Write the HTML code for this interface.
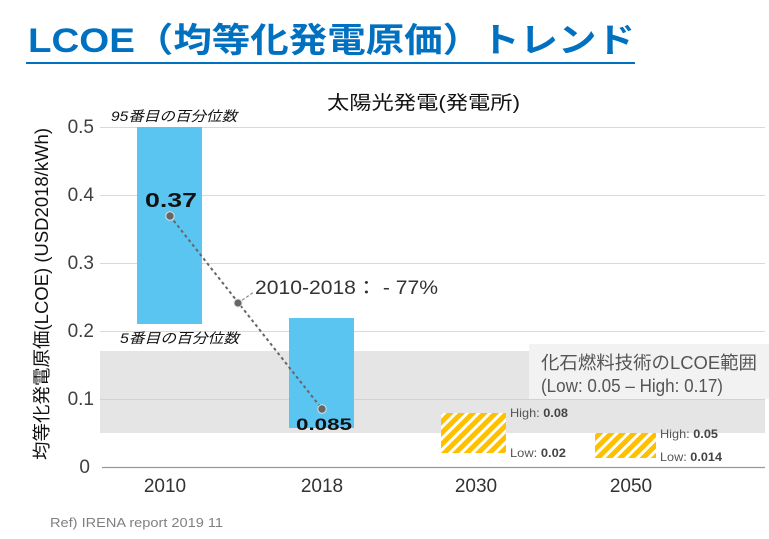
<!DOCTYPE html>
<html><head><meta charset="utf-8"><style>
html,body{margin:0;padding:0;background:#fff;}
svg{display:block;}
text{font-family:"Liberation Sans","Noto Sans CJK JP",sans-serif;}
.jp{font-family:"Liberation Sans","Noto Sans CJK JP",sans-serif;}
</style></head><body>
<svg width="769" height="539" viewBox="0 0 769 539" xmlns="http://www.w3.org/2000/svg">
<defs>
<pattern id="hatch" patternUnits="userSpaceOnUse" width="8" height="8" patternTransform="rotate(45)">
<rect x="0" y="0" width="8" height="8" fill="#ffffff"/>
<rect x="0" y="0" width="5" height="8" fill="#FFC000"/>
</pattern>
</defs>
<rect width="769" height="539" fill="#fff"/>

<!-- Title -->
<text x="28" y="52" font-size="34" font-weight="bold" fill="#0070C0" textLength="607" lengthAdjust="spacingAndGlyphs">LCOE（均等化発電原価）トレンド</text>
<rect x="26" y="62" width="609" height="2" fill="#0070C0"/>

<!-- subtitle -->
<text x="327" y="109" font-size="19" fill="#111" textLength="193" lengthAdjust="spacingAndGlyphs">太陽光発電(発電所)</text>

<!-- gray band fossil range -->
<rect x="100" y="351" width="665" height="82" fill="#e5e5e5"/>

<!-- gridlines -->
<g stroke="#d9d9d9" stroke-width="1">
<line x1="100" y1="127.5" x2="765" y2="127.5"/>
<line x1="100" y1="195.5" x2="765" y2="195.5"/>
<line x1="100" y1="263.5" x2="765" y2="263.5"/>
<line x1="100" y1="331.5" x2="765" y2="331.5"/>
<line x1="100" y1="399.5" x2="765" y2="399.5" stroke="#d2d2d2"/>
</g>
<line x1="102" y1="467.5" x2="765" y2="467.5" stroke="#999" stroke-width="1.2"/>

<!-- legend box -->
<rect x="529" y="344" width="240" height="55" fill="#f2f2f2"/>
<text x="541" y="369" font-size="18" fill="#555" textLength="216" lengthAdjust="spacingAndGlyphs">化石燃料技術のLCOE範囲</text>
<text x="541" y="392" font-size="18" fill="#555" textLength="182" lengthAdjust="spacingAndGlyphs">(Low: 0.05 – High: 0.17)</text>

<!-- bars -->
<rect x="137" y="127" width="65" height="197" fill="#5BC5F2"/>
<rect x="289" y="318" width="65" height="110" fill="#5BC5F2"/>

<!-- hatched -->
<rect x="441" y="413" width="65" height="40" fill="url(#hatch)"/>
<rect x="595" y="433" width="61" height="25" fill="url(#hatch)"/>

<!-- percentile labels -->
<text x="111" y="121" font-size="14" font-style="italic" fill="#111" textLength="126" lengthAdjust="spacingAndGlyphs">95番目の百分位数</text>
<text x="120" y="343" font-size="14" font-style="italic" fill="#111" textLength="119" lengthAdjust="spacingAndGlyphs">5番目の百分位数</text>

<!-- trend line -->
<line x1="170" y1="216" x2="322" y2="409" stroke="#666" stroke-width="2" stroke-dasharray="3,3"/>
<line x1="238" y1="303" x2="254" y2="292" stroke="#888" stroke-width="1.2" stroke-dasharray="3,2"/>
<circle cx="170" cy="216" r="4.2" fill="#666" stroke="#e0e0e0" stroke-width="1"/>
<circle cx="238" cy="303" r="4" fill="#666" stroke="#e0e0e0" stroke-width="1"/>
<circle cx="322" cy="409" r="4.2" fill="#666" stroke="#e0e0e0" stroke-width="1"/>

<text x="255" y="294" font-size="19" fill="#333" textLength="183" lengthAdjust="spacingAndGlyphs">2010-2018： - 77%</text>

<!-- value labels -->
<text x="145" y="207" font-size="20" font-weight="bold" fill="#111" textLength="52" lengthAdjust="spacingAndGlyphs">0.37</text>
<text x="296" y="430" font-size="17" font-weight="bold" fill="#111" textLength="56" lengthAdjust="spacingAndGlyphs">0.085</text>

<!-- High/Low labels -->
<g font-size="12" fill="#555">
<text x="510" y="417" textLength="58" lengthAdjust="spacingAndGlyphs">High: <tspan font-weight="bold" fill="#444">0.08</tspan></text>
<text x="510" y="457" textLength="56" lengthAdjust="spacingAndGlyphs">Low: <tspan font-weight="bold" fill="#444">0.02</tspan></text>
<text x="660" y="438" textLength="58" lengthAdjust="spacingAndGlyphs">High: <tspan font-weight="bold" fill="#444">0.05</tspan></text>
<text x="660" y="461" textLength="62" lengthAdjust="spacingAndGlyphs">Low: <tspan font-weight="bold" fill="#444">0.014</tspan></text>
</g>

<!-- Y tick labels -->
<g font-size="19" fill="#404040" text-anchor="end">
<text x="94" y="133">0.5</text>
<text x="94" y="201">0.4</text>
<text x="94" y="269">0.3</text>
<text x="94" y="337">0.2</text>
<text x="94" y="405">0.1</text>
<text x="90" y="473">0</text>
</g>

<!-- X labels -->
<g font-size="19" fill="#333" text-anchor="middle">
<text x="165" y="492">2010</text>
<text x="322" y="492">2018</text>
<text x="476" y="492">2030</text>
<text x="631" y="492">2050</text>
</g>

<!-- Y axis title -->
<text transform="translate(42,294) rotate(-90)" font-size="18" fill="#111" text-anchor="middle" dominant-baseline="central" textLength="332" lengthAdjust="spacingAndGlyphs">均等化発電原価(LCOE) (USD2018/kWh)</text>

<!-- ref -->
<text x="50" y="527" font-size="13" fill="#808080" textLength="173" lengthAdjust="spacingAndGlyphs">Ref) IRENA report 2019 11</text>
</svg>
</body></html>
